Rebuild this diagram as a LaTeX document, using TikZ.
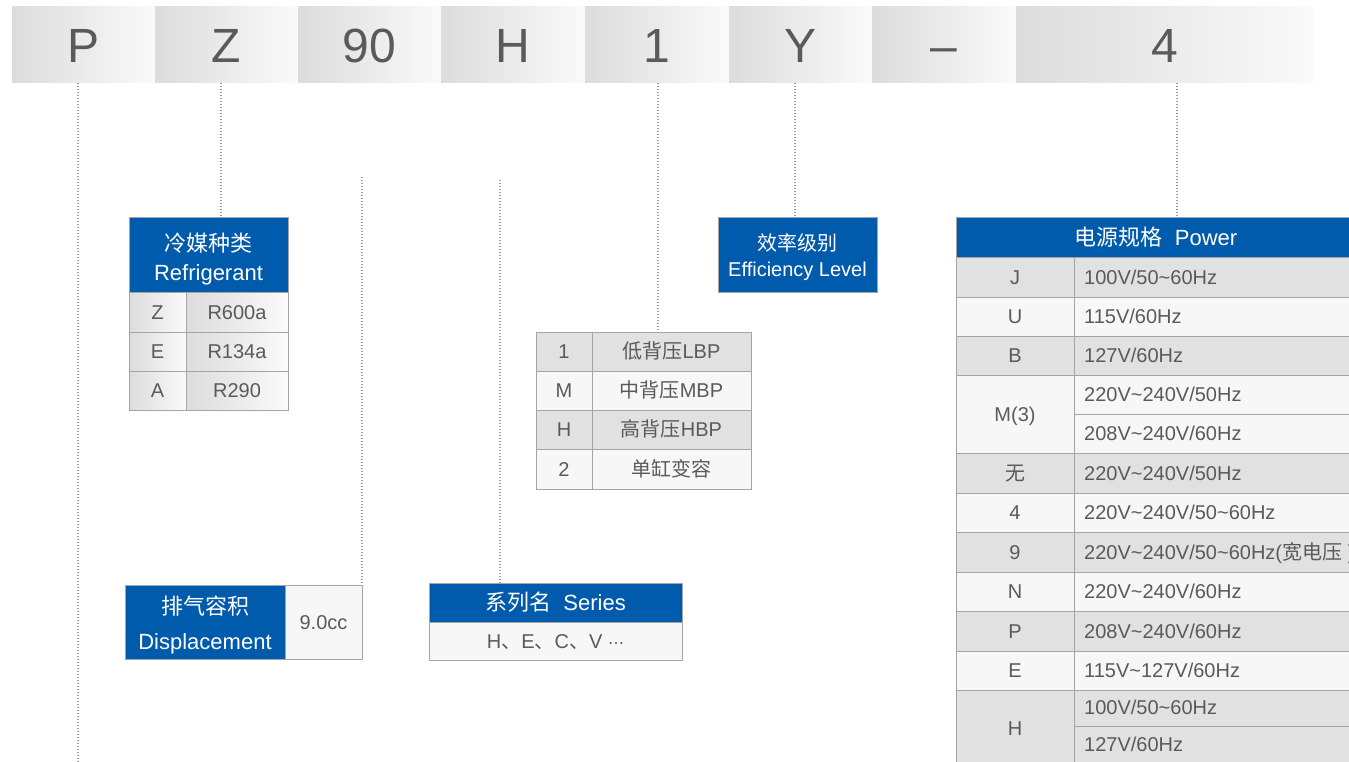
\documentclass[tikz,border=0pt]{standalone}
\usepackage{fontspec}
\setmainfont{Liberation Sans}
\newfontfamily\cjk{Noto Sans CJK SC}
\newfontfamily\djv{DejaVu Sans}
\newcommand\zh[1]{{\cjk #1}}
\newcommand\fs[1]{\fontsize{#1}{#1}\selectfont}
\definecolor{blu}{HTML}{005BAC}
\definecolor{bord}{HTML}{A4A4A4}
\definecolor{txt}{HTML}{5A5A5A}
\definecolor{rowg}{HTML}{E1E1E1}
\definecolor{rowl}{HTML}{F7F7F7}
\definecolor{gradl}{HTML}{DCDCDC}
\definecolor{gradr}{HTML}{FAFAFA}
\definecolor{dotc}{HTML}{9A9A9A}
\newcommand\mkbox[7]{\node[#2,minimum width={#5-#3},minimum height={#6-#4}] (#1) at ({(#3+#5)/2},{(#4+#6)/2}) {#7};}
\newcommand\prow[6]{%
  \mkbox{#1k}{#2}{956}{#3}{1074}{#4}{#5}%
  \mkbox{#1v}{#2}{1074}{#3}{1356}{#4}{}%
  \node[vtext] (#1t) at (1084,{(#3+#4)/2}) {#6};}
\begin{document}
\begin{tikzpicture}[x=1pt,y=-1pt,
  cellbase/.style={inner sep=0pt,outer sep=0pt,draw=bord,line width=1pt,text=txt,font=\fs{20}},
  cellfix/.style={cellbase,text height=14.3pt,text depth=0pt},
  topbox/.style={inner sep=0pt,outer sep=0pt,left color=gradl,right color=gradr,text=txt,font=\fs{48},text height=34.4pt,text depth=0pt},
  hdr/.style={cellbase,fill=blu,text=white},
  htext/.style={inner sep=0pt,text=white,align=center},
  grad/.style={cellfix,left color=gradl,right color=gradr},
  gcell/.style={cellfix,fill=rowg},
  lcell/.style={cellfix,fill=rowl},
  vtext/.style={anchor=west,inner sep=0pt,text=txt,font=\fs{20},text height=14.3pt,text depth=0pt},
  dotl/.style={draw=dotc,line width=1.2pt,dash pattern=on 1.4pt off 1.6pt},
  ]
\useasboundingbox (0,0) rectangle (1349,762);
\fill[white] (0,0) rectangle (1349,762);
% top code bar
\mkbox{tP}{topbox}{12}{7}{155}{83}{P}
\mkbox{tZ}{topbox}{155}{7}{298}{83}{Z}
\mkbox{t90}{topbox}{298}{7}{441}{83}{90}
\mkbox{tH}{topbox}{441}{7}{585}{83}{H}
\mkbox{t1}{topbox}{585}{7}{729}{83}{1}
\mkbox{tY}{topbox}{729}{7}{872}{83}{Y}
\mkbox{tD}{topbox}{872}{7}{1016}{83}{–}
\mkbox{t4}{topbox}{1016}{7}{1313}{83}{4}
% refrigerant
\mkbox{ref}{hdr}{129}{218}{288}{292}{}
\node[htext,font=\fontsize{22}{29}\selectfont,yshift=-4pt] (refT) at (ref.center) {\zh{冷媒种类}\\Refrigerant};
\mkbox{rZk}{grad}{129}{292}{186}{332}{Z}
\mkbox{rZv}{grad}{186}{292}{288}{332}{R600a}
\mkbox{rEk}{grad}{129}{332}{186}{371}{E}
\mkbox{rEv}{grad}{186}{332}{288}{371}{R134a}
\mkbox{rAk}{grad}{129}{371}{186}{410}{A}
\mkbox{rAv}{grad}{186}{371}{288}{410}{R290}
% efficiency
\mkbox{eff}{hdr}{718}{218}{877}{292}{}
\node[htext,font=\fontsize{20}{26}\selectfont,yshift=-2pt] (effT) at (eff.center) {\zh{效率级别}\\Efficiency Level};
% back pressure
\mkbox{m1k}{gcell}{536}{332}{592}{371}{1}
\mkbox{m1v}{gcell}{592}{332}{751}{371}{\zh{低背压}LBP}
\mkbox{mMk}{lcell}{536}{371}{592}{410}{M}
\mkbox{mMv}{lcell}{592}{371}{751}{410}{\zh{中背压}MBP}
\mkbox{mHk}{gcell}{536}{410}{592}{449}{H}
\mkbox{mHv}{gcell}{592}{410}{751}{449}{\zh{高背压}HBP}
\mkbox{m2k}{lcell}{536}{449}{592}{489}{2}
\mkbox{m2v}{lcell}{592}{449}{751}{489}{\zh{单缸变容}}
% displacement
\mkbox{dis}{hdr}{125}{585}{285}{659}{}
\node[htext,font=\fontsize{22}{35}\selectfont,yshift=-3pt] (disT) at (dis.center) {\zh{排气容积}\\Displacement};
\mkbox{disv}{lcell}{285}{585}{362}{659}{9.0cc}
% series
\mkbox{ser}{hdr,font=\fs{22}}{429}{583}{682}{622}{\zh{系列名}\ \ Series}
\mkbox{serv}{lcell}{429}{622}{682}{660}{H\zh{、}E\zh{、}C\zh{、}V {\djv\fs{16}⋯}}
% power
\mkbox{pow}{hdr,font=\fs{22}}{956}{218}{1356}{257}{\zh{电源规格}\ \ Power}
\prow{pJ}{gcell}{257}{297}{J}{100V/50\textasciitilde 60Hz}
\prow{pU}{lcell}{297}{336}{U}{115V/60Hz}
\prow{pB}{gcell}{336}{375}{B}{127V/60Hz}
\mkbox{pMk}{lcell}{956}{375}{1074}{453}{M(3)}
\mkbox{pMa}{lcell}{1074}{375}{1356}{414}{}
\mkbox{pMb}{lcell}{1074}{414}{1356}{453}{}
\node[vtext] (pMat) at (1084,394.5) {220V\textasciitilde 240V/50Hz};
\node[vtext] (pMbt) at (1084,433.5) {208V\textasciitilde 240V/60Hz};
\prow{pW}{gcell}{453}{493}{\zh{无}}{220V\textasciitilde 240V/50Hz}
\prow{pF}{lcell}{493}{532}{4}{220V\textasciitilde 240V/50\textasciitilde 60Hz}
\prow{pG}{gcell}{532}{572}{9}{220V\textasciitilde 240V/50\textasciitilde 60Hz(\zh{宽电压} )}
\prow{pN}{lcell}{572}{611}{N}{220V\textasciitilde 240V/60Hz}
\prow{pP}{gcell}{611}{651}{P}{208V\textasciitilde 240V/60Hz}
\prow{pE}{lcell}{651}{690}{E}{115V\textasciitilde 127V/60Hz}
\mkbox{pHk}{gcell}{956}{690}{1074}{766}{H}
\mkbox{pHa}{gcell}{1074}{690}{1356}{726}{}
\mkbox{pHb}{gcell}{1074}{726}{1356}{766}{}
\node[vtext] (pHat) at (1084,707) {100V/50\textasciitilde 60Hz};
\node[vtext] (pHbt) at (1084,744) {127V/60Hz};
% dotted leaders
\coordinate (px) at (78,0);
\coordinate (pend) at (78,762);
\draw[dotl] (tP.south -| px) -- (pend);
\coordinate (zx) at (221,0);
\draw[dotl] (tZ.south -| zx) -- (ref.north -| zx);
\coordinate (c90) at (362,177);
\draw[dotl] (c90) -- (disv.north east);
\coordinate (cH) at (500,180);
\draw[dotl] (cH) -- (ser.north -| cH);
\coordinate (x1) at (658,0);
\draw[dotl] (t1.south -| x1) -- (m1v.north -| x1);
\coordinate (xY) at (795,0);
\draw[dotl] (tY.south -| xY) -- (eff.north -| xY);
\coordinate (x4) at (1177,0);
\draw[dotl] (t4.south -| x4) -- (pow.north -| x4);
\end{tikzpicture}
\end{document}
